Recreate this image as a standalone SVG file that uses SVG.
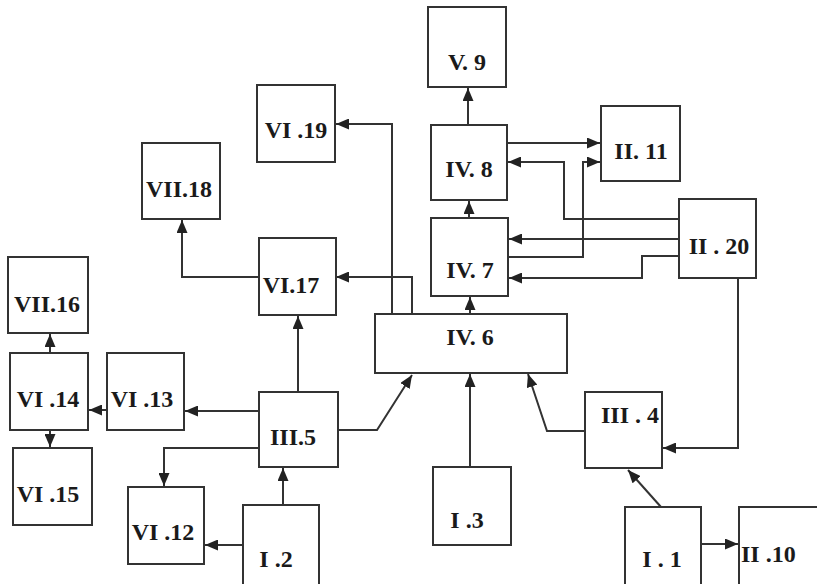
<svg xmlns="http://www.w3.org/2000/svg" width="817" height="584" viewBox="0 0 817 584">
<style>
.b rect{fill:#fff;stroke:#333;stroke-width:2}
.b text{font-family:"Liberation Serif","Times New Roman",serif;font-weight:bold;font-size:24px;fill:#1a1a1a;text-anchor:middle}
.c path{fill:none;stroke:#333;stroke-width:2}
</style>
<defs>
<marker id="ah" markerUnits="userSpaceOnUse" markerWidth="13" markerHeight="11" refX="13" refY="5.5" orient="auto">
<path d="M0,0 L13,5.5 L0,11 z" fill="#222"/>
</marker>
</defs>
<rect width="817" height="584" fill="#fff"/>
<g class="c" marker-end="url(#ah)">
<path d="M468,125 L468,88"/>
<path d="M469,218 L469,201"/>
<path d="M470,314 L470,297"/>
<path d="M507,143 L600,143"/>
<path d="M679,219 L564,219 L564,162 L508,162"/>
<path d="M509,257 L583,257 L583,162 L600,162"/>
<path d="M679,239 L509,239"/>
<path d="M679,256 L642,256 L642,278 L509,278"/>
<path d="M738,278 L738,448 L663,448"/>
<path d="M661,507 L628,470"/>
<path d="M701,544 L738,544"/>
<path d="M585,431 L547,431 L528,374"/>
<path d="M470,467 L470,374"/>
<path d="M338,430 L377,430 L412,375"/>
<path d="M298,392 L298,316"/>
<path d="M392,314 L392,124 L336,124"/>
<path d="M412,314 L412,277 L336,277"/>
<path d="M259,277 L182,277 L182,220"/>
<path d="M259,411 L185,411"/>
<path d="M259,448 L164,448 L164,486"/>
<path d="M243,545 L205,545"/>
<path d="M283,505 L283,468"/>
<path d="M107,410 L89,410"/>
<path d="M50,353 L50,334"/>
<path d="M50,430 L50,447"/>
</g>
<g class="b">
<g id="n9"><rect x="428" y="7" width="78" height="80"/><text x="467" y="70">V. 9</text></g>
<g id="n8"><rect x="431" y="125" width="76" height="75"/><text x="469" y="177">IV. 8</text></g>
<g id="n11"><rect x="601" y="106" width="79" height="75"/><text x="641" y="159">II. 11</text></g>
<g id="n20"><rect x="679" y="199" width="77" height="79"/><text x="719" y="254">II . 20</text></g>
<g id="n7"><rect x="431" y="218" width="77" height="78"/><text x="470" y="278">IV. 7</text></g>
<g id="n6"><rect x="375" y="314" width="192" height="59"/><text x="470" y="345">IV. 6</text></g>
<g id="n19"><rect x="257" y="85" width="78" height="77"/><text x="296" y="138">VI .19</text></g>
<g id="n18"><rect x="142" y="143" width="78" height="76"/><text x="179" y="197">VII.18</text></g>
<g id="n17"><rect x="259" y="238" width="77" height="77"/><text x="291" y="293">VI.17</text></g>
<g id="n16"><rect x="8" y="257" width="80" height="76"/><text x="47" y="312">VII.16</text></g>
<g id="n14"><rect x="10" y="353" width="78" height="77"/><text x="48" y="407">VI .14</text></g>
<g id="n13"><rect x="107" y="353" width="77" height="77"/><text x="142" y="407">VI .13</text></g>
<g id="n15"><rect x="13" y="448" width="79" height="77"/><text x="48" y="502">VI .15</text></g>
<g id="n5"><rect x="259" y="392" width="79" height="75"/><text x="293" y="445">III.5</text></g>
<g id="n12"><rect x="128" y="487" width="76" height="77"/><text x="163" y="540">VI .12</text></g>
<g id="n2"><rect x="243" y="505" width="76" height="85"/><text x="276" y="567">I .2</text></g>
<g id="n3"><rect x="433" y="467" width="78" height="78"/><text x="467" y="528">I .3</text></g>
<g id="n4"><rect x="585" y="392" width="77" height="76"/><text x="630" y="423">III . 4</text></g>
<g id="n1"><rect x="625" y="507" width="76" height="85"/><text x="662" y="567">I . 1</text></g>
<g id="n10"><rect x="739" y="507" width="80" height="85"/><text x="741" y="562" style="text-anchor:start">II .10</text></g>
</g>
</svg>
